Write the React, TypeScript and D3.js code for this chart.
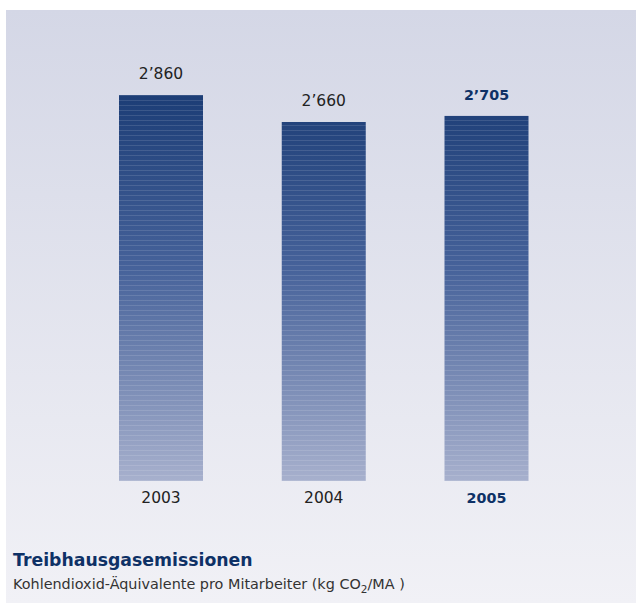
import React from "react";
import * as d3 from "d3";

const years = ["2003", "2004", "2005"];
const values = [2860, 2660, 2705];
const valueLabels = ["2’860", "2’660", "2’705"];
const highlight = [false, false, true];
const title = "Treibhausgasemissionen";

const W = 638;
const H = 605;

export default function App() {
  const bw = 84;
  const xs = d3.scalePoint<string>().domain(years).range([161, 486.5]);
  const y = d3.scaleLinear().domain([0, 2860]).range([481, 95]);
  const font = "'DejaVu Sans', sans-serif";
  return (
    <svg width={W} height={H} style={{ position: "absolute", left: 0, top: 0 }}>
      <defs>
        <linearGradient id="bg" x1="0" y1="0" x2="0" y2="1">
          <stop offset="0" stopColor="#d4d7e6" />
          <stop offset="1" stopColor="#f1f1f6" />
        </linearGradient>
        <linearGradient id="bar" gradientUnits="userSpaceOnUse" x1="0" y1={y(2860)} x2="0" y2={y(0)}>
          <stop offset="0" stopColor="#1c3d76" />
          <stop offset="0.45" stopColor="#46629a" />
          <stop offset="1" stopColor="#a7b0cd" />
        </linearGradient>
        <pattern id="stripes" patternUnits="userSpaceOnUse" width="8" height="5">
          <rect x="0" y="0" width="8" height="1" fill="#ffffff" opacity="0.12" />
        </pattern>
      </defs>
      <rect x={6} y={10} width={630} height={593} fill="url(#bg)" />
      {years.map((yr, i) => {
        const cx = xs(yr)!;
        const fs = highlight[i] ? 14.3 : 15.5;
        return (
          <g key={yr}>
            <rect x={cx - bw / 2} y={y(values[i])} width={bw} height={y(0) - y(values[i])} fill="url(#bar)" />
            <rect x={cx - bw / 2} y={y(values[i])} width={bw} height={y(0) - y(values[i])} fill="url(#stripes)" />
            <text
              x={cx}
              y={y(values[i]) - 16}
              textAnchor="middle"
              fontFamily={font}
              fontSize={fs}
              fontWeight={highlight[i] ? "bold" : "normal"}
              fill={highlight[i] ? "#0e3166" : "#222"}
            >
              {valueLabels[i]}
            </text>
            <text
              x={cx}
              y={503}
              textAnchor="middle"
              fontFamily={font}
              fontSize={fs}
              fontWeight={highlight[i] ? "bold" : "normal"}
              fill={highlight[i] ? "#0e3166" : "#222"}
            >
              {yr}
            </text>
          </g>
        );
      })}
      <text x={13} y={566} fontFamily={font} fontSize={17.3} fontWeight="bold" fill="#0e3166">
        {title}
      </text>
      <text x={13} y={589} fontFamily={font} fontSize={14.4} fill="#333">
        Kohlendioxid-Äquivalente pro Mitarbeiter (kg CO
        <tspan fontSize={10.5} dy={4}>2</tspan>
        <tspan dy={-4}>/MA )</tspan>
      </text>
    </svg>
  );
}
